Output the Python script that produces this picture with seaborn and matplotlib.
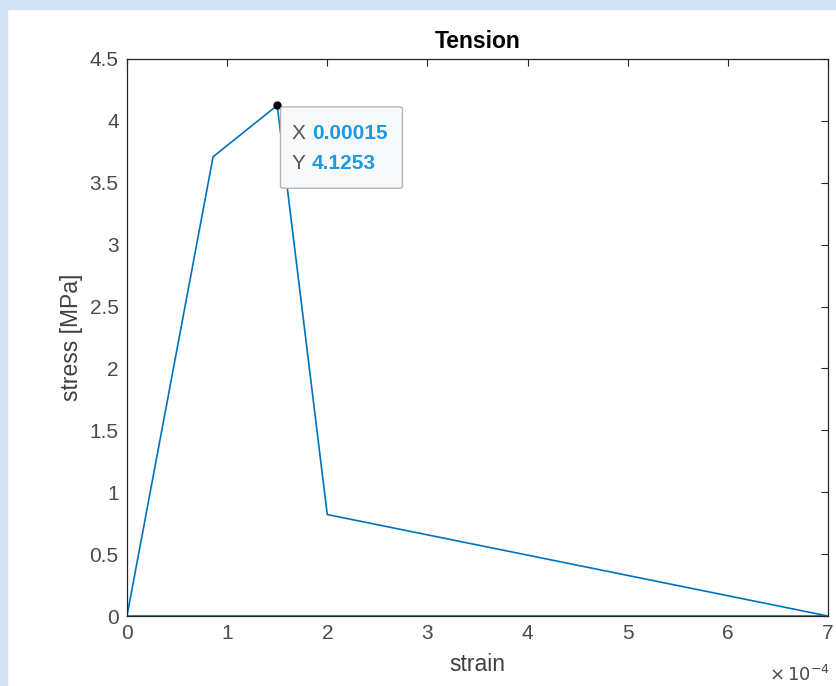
import numpy as np
import pandas as pd
import matplotlib
matplotlib.use("Agg")
import matplotlib.pyplot as plt
import matplotlib.patches as mpatches
import seaborn as sns

# data (strain in absolute units, stress in MPa)
strain = [0.0, 0.86e-4, 1.5e-4, 2.0e-4, 7.0e-4, 0.0]
stress = [0.0, 3.71, 4.1253, 0.82, 0.0, 0.0]
x_ticks = [0, 1, 2, 3, 4, 5, 6, 7]
y_ticks = [0, 0.5, 1, 1.5, 2, 2.5, 3, 3.5, 4, 4.5]
tip_x = 1.5e-4
tip_y = 4.1253

df = pd.DataFrame({"strain": strain, "stress": stress})

sns.set_theme(style="white")
plt.rcParams["font.family"] = ["Liberation Sans", "DejaVu Sans"]

fig = plt.figure(figsize=(8.37, 6.86), dpi=100)
fig.patch.set_facecolor("white")
# faint blue edge like the background behind the screenshot
fig.patches.append(mpatches.Rectangle((0, 0.987), 1, 0.013, transform=fig.transFigure,
                                      color="#d3e2f2", zorder=-1))
fig.patches.append(mpatches.Rectangle((0, 0), 0.008, 1, transform=fig.transFigure,
                                      color="#d3e2f2", zorder=-1))

ax = fig.add_axes([0.1517, 0.102, 0.8375, 0.812])
sns.lineplot(data=df, x="strain", y="stress", sort=False, estimator=None,
             color="#0072BD", linewidth=1.2, ax=ax)

ax.plot([tip_x], [tip_y], marker="o", markersize=5, color="black", zorder=5)

ax.set_xlim(0, 7e-4)
ax.set_ylim(0, 4.5)
ax.set_xticks([t * 1e-4 for t in x_ticks])
ax.set_xticklabels([str(t) for t in x_ticks])
ax.set_yticks(y_ticks)
ax.set_yticklabels([f"{t:g}" for t in y_ticks])

ax.tick_params(direction="in", length=5, width=0.8, colors="#262626",
               labelsize=15, top=True, right=True, pad=6)
for lbl in ax.get_xticklabels() + ax.get_yticklabels():
    lbl.set_color("#4a4a4a")
for s in ax.spines.values():
    s.set_color("#262626")
    s.set_linewidth(0.9)

ax.set_xlabel("strain", fontsize=16.5, color="#404040", labelpad=7)
ax.set_ylabel("stress [MPa]", fontsize=16.5, color="#404040", labelpad=5)
ax.set_title("Tension", fontsize=16.5, fontweight="bold", color="black", pad=8)

ax.text(1.003, -0.106, r"$\times\,10^{-4}$", transform=ax.transAxes,
        ha="right", va="center", fontsize=13, color="#4a4a4a")

# data tip box
box = mpatches.FancyBboxPatch((0.219, 0.768), 0.174, 0.146, transform=ax.transAxes,
                              boxstyle="round,pad=0,rounding_size=0.004",
                              facecolor="#f8f9fb", edgecolor="#b5b5b5", linewidth=1.0,
                              zorder=6)
ax.add_patch(box)
ax.text(0.235, 0.867, "X", transform=ax.transAxes, fontsize=15, color="#555555",
        va="center", zorder=7)
ax.text(0.264, 0.867, "0.00015", transform=ax.transAxes, fontsize=15, color="#1f9ae0",
        fontweight="bold", va="center", zorder=7)
ax.text(0.235, 0.812, "Y", transform=ax.transAxes, fontsize=15, color="#555555",
        va="center", zorder=7)
ax.text(0.264, 0.812, "4.1253", transform=ax.transAxes, fontsize=15, color="#1f9ae0",
        fontweight="bold", va="center", zorder=7)

fig.savefig("out.png", dpi=100, facecolor=fig.get_facecolor())
